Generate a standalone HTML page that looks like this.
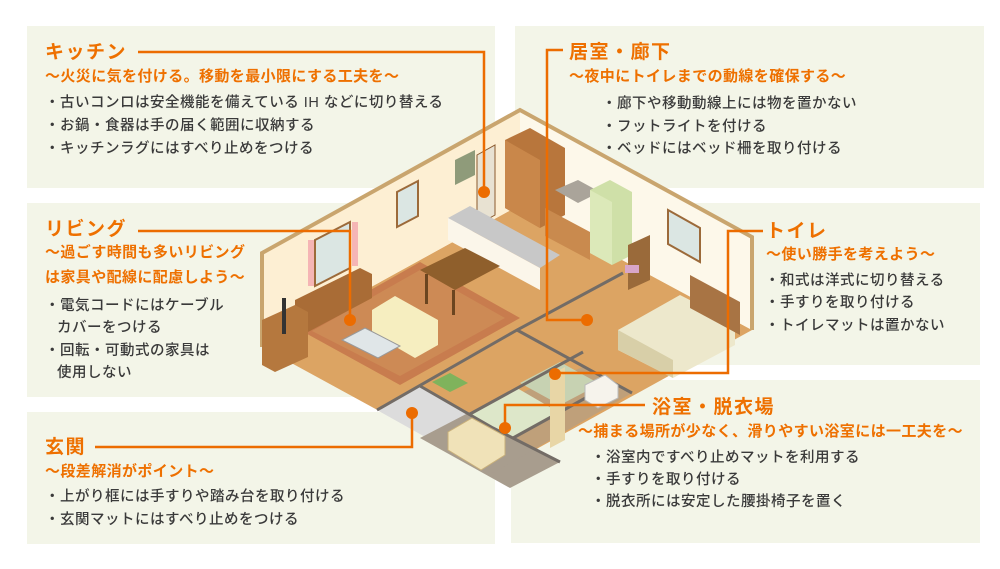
<!DOCTYPE html>
<html><head><meta charset="utf-8"><style>
html,body{margin:0;padding:0;background:#fff;}
body{width:1000px;height:569px;position:relative;overflow:hidden;font-family:"Liberation Sans","Noto Sans CJK JP",sans-serif;}
.box{position:absolute;background:#f3f5e8;}
.t{position:absolute;white-space:nowrap;color:#ee7000;font-weight:bold;}
.h{font-size:19px;line-height:19px;letter-spacing:1.5px;}
.s{font-size:15px;line-height:15px;letter-spacing:0.4px;}
.i{position:absolute;white-space:nowrap;color:#3a3a3a;font-size:14.5px;line-height:14.5px;letter-spacing:0.5px;font-weight:500;}
svg{position:absolute;left:0;top:0;}
</style></head><body>
<div class="box" style="left:27px;top:26px;width:468px;height:162px"></div>
<div class="box" style="left:515px;top:26px;width:469px;height:162px"></div>
<div class="box" style="left:27px;top:203px;width:330px;height:194px"></div>
<div class="box" style="left:511px;top:203px;width:469px;height:162px"></div>
<div class="box" style="left:511px;top:380px;width:469px;height:163px"></div>
<div class="box" style="left:27px;top:412px;width:468px;height:132px"></div>

<svg width="1000" height="569" viewBox="0 0 1000 569">
 <polygon points="262,347 520,205 752,330 493,473" fill="#dca463"/>
 <polygon points="300,330 420,262 520,318 400,385" fill="#c87c4e"/>
 <polygon points="312,331 420,270 505,318 400,376" fill="#cd8a55"/>
 <polygon points="377,410 420,386 470,414 427,438" fill="#dcdcdc"/>
 <polygon points="420,438 470,412 560,462 510,488" fill="#a89d8e"/>
 <polygon points="493,473 427,438 470,414 583,367 632,393" fill="#a89d8e" opacity="0.55"/>
 <polygon points="470,414 517,388 560,413 513,438" fill="#dde7c9"/>
 <polygon points="520,383 560,362 600,384 560,405" fill="#c7d2b2"/>
 <polygon points="432,382 450,373 468,383 450,392" fill="#7fb35c"/>
 <g stroke="#736c66" stroke-width="3" fill="none">
  <polyline points="623,273 517,330 377,410"/>
  <polyline points="517,330 632,393"/>
  <polyline points="420,386 493,428 560,462"/>
  <polyline points="470,414 583,352"/>
  <polyline points="513,438 600,390"/>
 </g>
 <polygon points="262,253 520,110 520,205 262,347" fill="#fdefd3"/>
 <polygon points="520,110 752,237 752,330 520,205" fill="#fdf8ea"/>
 <polyline points="262,347 262,253 520,110 752,237 752,330" fill="none" stroke="#c9a56e" stroke-width="4"/>
 <polygon points="315,240 350,222 350,268 315,286" fill="#dbe6e3" stroke="#9c6a3a" stroke-width="2"/>
 <polygon points="397,192 418,181 418,216 397,227" fill="#dbe6e3" stroke="#9c6a3a" stroke-width="2"/>
 <polygon points="668,210 700,228 700,262 668,244" fill="#dbe6e3" stroke="#9c6a3a" stroke-width="2"/>
 <rect x="308" y="240" width="6" height="46" fill="#f5b5b5"/>
 <rect x="352" y="222" width="6" height="44" fill="#f5b5b5"/>
 <polygon points="505,140 530,128 565,148 565,215 540,228 505,208" fill="#b8763c"/>
 <polygon points="505,140 540,160 540,228 505,208" fill="#c9874a"/>
 <polygon points="455,160 475,150 475,175 455,185" fill="#8f9b7a"/>
 <polygon points="477,155 495,145 495,215 477,225" fill="#e8e2d2" stroke="#8a5a2e"/>
 <polygon points="448,218 470,206 560,255 540,268" fill="#c8c8c8"/>
 <polygon points="448,218 540,268 540,290 448,240" fill="#fbf6ea"/>
 <polygon points="555,190 578,180 600,192 578,203" fill="#aaa49a"/>
 <polygon points="590,190 610,180 632,192 632,255 612,265 590,253" fill="#cfe0a8"/>
 <polygon points="590,190 612,202 612,265 590,253" fill="#dce9b9"/>
 <polygon points="545,208 590,232 590,260 545,236" fill="#c98a4e"/>
 <polygon points="420,270 465,248 500,266 455,290" fill="#8f5f2c"/>
 <rect x="425" y="274" width="3" height="30" fill="#6b4520"/>
 <rect x="452" y="290" width="3" height="25" fill="#6b4520"/>
 <polygon points="295,300 360,268 372,274 372,298 308,332 295,325" fill="#a96c36"/>
 <polygon points="262,320 295,305 308,312 308,357 275,372 262,365" fill="#b5783e"/>
 <rect x="282" y="298" width="4" height="36" fill="#333"/>
 <polygon points="372,310 395,296 438,320 438,345 415,358 372,333" fill="#f6eec0"/>
 <polygon points="342,340 365,328 400,346 378,358" fill="#e0e6e8" stroke="#999"/>
 <polygon points="618,330 680,295 735,323 735,345 673,378 618,350" fill="#ede8cc"/>
 <polygon points="618,330 673,360 673,378 618,350" fill="#d8cfa8"/>
 <polygon points="690,275 740,302 740,335 690,308" fill="#a87444"/>
 <polygon points="628,245 650,235 650,280 628,290" fill="#9a6a3a"/>
 <rect x="625" y="265" width="14" height="8" fill="#d8a6c8"/>
 <polygon points="448,432 472,418 505,436 505,455 481,470 448,450" fill="#f0e2b8" stroke="#c9b07a"/>
 <polygon points="550,375 565,367 565,440 550,448" fill="#e8d6a6"/>
 <polygon points="585,385 605,375 618,385 618,398 598,408 585,400" fill="#f6f3ec" stroke="#bbb"/>
 <g stroke="#ec6c00" stroke-width="2.5" fill="none">
  <polyline points="138,52 484,52 484,192"/>
  <polyline points="563,50 547,50 547,320 587,320"/>
  <polyline points="138,231 350,231 350,318"/>
  <polyline points="763,231 728,231 728,373 555,373"/>
  <polyline points="645,405 505,405 505,428"/>
  <polyline points="95,447 412,447 412,413"/>
 </g>
 <g fill="#ec6c00">
  <circle cx="484" cy="192" r="6"/>
  <circle cx="587" cy="320" r="6"/>
  <circle cx="350" cy="320" r="6"/>
  <circle cx="555" cy="374" r="6"/>
  <circle cx="505" cy="428" r="6"/>
  <circle cx="412" cy="413" r="6"/>
 </g>
</svg>

<div class="t h" style="left:45px;top:43px">キッチン</div>
<div class="t s" style="left:45px;top:69px">～火災に気を付ける。移動を最小限にする工夫を～</div>
<div class="i" style="left:45px;top:96px">・古いコンロは安全機能を備えている IH などに切り替える</div>
<div class="i" style="left:45px;top:119px">・お鍋・食器は手の届く範囲に収納する</div>
<div class="i" style="left:45px;top:142px">・キッチンラグにはすべり止めをつける</div>

<div class="t h" style="left:569px;top:43px">居室・廊下</div>
<div class="t s" style="left:569px;top:69px">～夜中にトイレまでの動線を確保する～</div>
<div class="i" style="left:602px;top:97px">・廊下や移動動線上には物を置かない</div>
<div class="i" style="left:602px;top:120px">・フットライトを付ける</div>
<div class="i" style="left:602px;top:142px">・ベッドにはベッド柵を取り付ける</div>

<div class="t h" style="left:45px;top:220px">リビング</div>
<div class="t s" style="left:45px;top:245px">～過ごす時間も多いリビング</div>
<div class="t s" style="left:45px;top:270px">は家具や配線に配慮しよう～</div>
<div class="i" style="left:45px;top:299px">・電気コードにはケーブル</div>
<div class="i" style="left:57px;top:321px">カバーをつける</div>
<div class="i" style="left:45px;top:344px">・回転・可動式の家具は</div>
<div class="i" style="left:57px;top:366px">使用しない</div>

<div class="t h" style="left:766px;top:222px">トイレ</div>
<div class="t s" style="left:766px;top:247px">～使い勝手を考えよう～</div>
<div class="i" style="left:765px;top:274px">・和式は洋式に切り替える</div>
<div class="i" style="left:765px;top:296px">・手すりを取り付ける</div>
<div class="i" style="left:765px;top:319px">・トイレマットは置かない</div>

<div class="t h" style="left:652px;top:398px">浴室・脱衣場</div>
<div class="t s" style="left:578px;top:424px">～捕まる場所が少なく、滑りやすい浴室には一工夫を～</div>
<div class="i" style="left:591px;top:451px">・浴室内ですべり止めマットを利用する</div>
<div class="i" style="left:591px;top:473px">・手すりを取り付ける</div>
<div class="i" style="left:591px;top:495px">・脱衣所には安定した腰掛椅子を置く</div>

<div class="t h" style="left:45px;top:438px">玄関</div>
<div class="t s" style="left:45px;top:464px">～段差解消がポイント～</div>
<div class="i" style="left:45px;top:490px">・上がり框には手すりや踏み台を取り付ける</div>
<div class="i" style="left:45px;top:513px">・玄関マットにはすべり止めをつける</div>
</body></html>
